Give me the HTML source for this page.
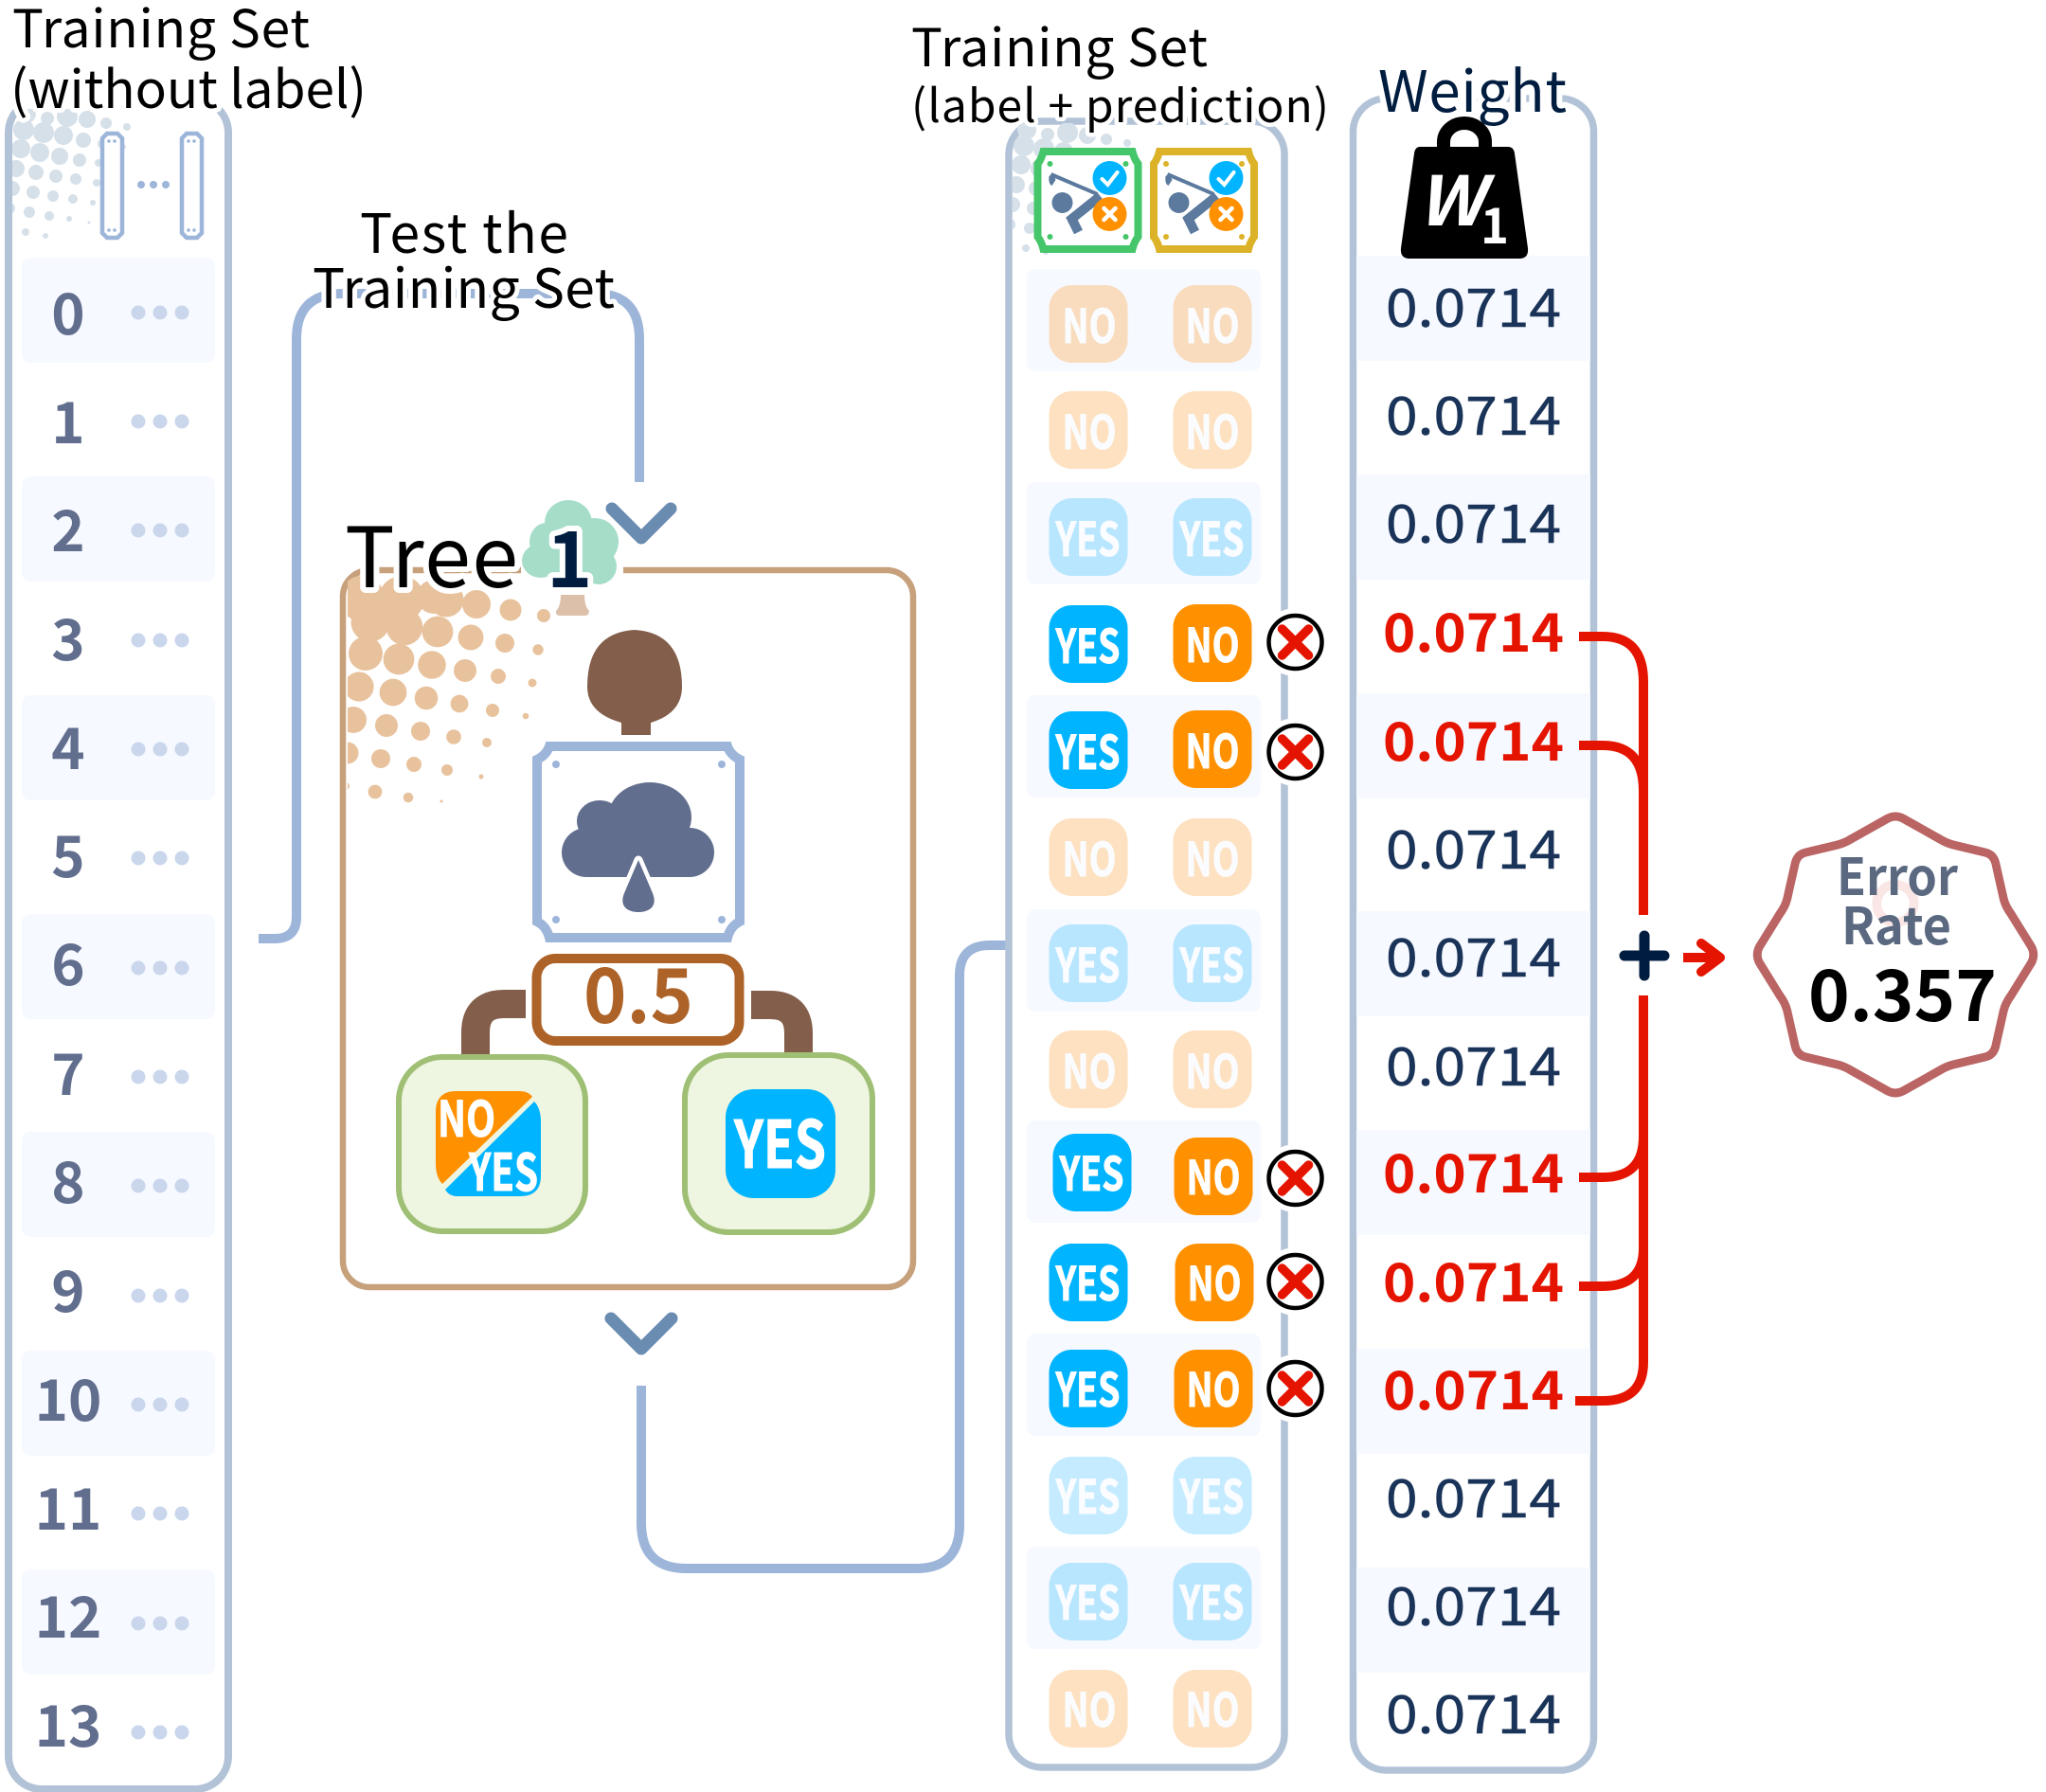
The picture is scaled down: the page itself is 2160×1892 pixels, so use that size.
<!DOCTYPE html>
<html>
<head>
<meta charset="utf-8">
<style>
html,body{margin:0;padding:0;background:#fff}
svg{display:block}
text{font-family:"Noto Sans CJK JP","Liberation Sans",sans-serif}
.h{paint-order:stroke;stroke:#fff;stroke-linejoin:round}
.n{font-size:60px;font-weight:700;fill:#626e8e;text-anchor:middle}
.d{fill:#c9d6ec}
.b{fill:#f6f9ff}
.w{font-size:56px;fill:#1a3358;stroke:#1a3358;stroke-width:.5px}
.r{font-size:56px;font-weight:700;fill:#e51400}
.p{font-size:49px;font-weight:700;fill:#fff;stroke:#fff;stroke-width:1px}
.q{font-size:49px;font-weight:700;fill:#fafcff;stroke:#fafcff;stroke-width:1px}
</style>
</head>
<body>
<svg xmlns="http://www.w3.org/2000/svg" width="2160" height="1892" viewBox="0 0 2160 1892">
<defs>
<clipPath id="c1"><rect x="13" y="115" width="225" height="150"/></clipPath>
<clipPath id="c2"><rect x="1072" y="130" width="130" height="140"/></clipPath>
<clipPath id="c3"><rect x="367" y="604" width="300" height="300"/></clipPath>
<g id="ht" fill="#d6e0e9">
<circle cx="25" cy="137" r="11"/><circle cx="46" cy="140" r="11"/><circle cx="67" cy="143" r="10"/><circle cx="88" cy="148" r="8"/>
<circle cx="22" cy="157" r="10"/><circle cx="42" cy="161" r="10"/><circle cx="63" cy="165" r="9"/><circle cx="84" cy="169" r="7"/><circle cx="104" cy="172" r="4"/>
<circle cx="17" cy="178" r="9"/><circle cx="38" cy="182" r="8"/><circle cx="59" cy="186" r="7"/><circle cx="80" cy="189" r="6"/><circle cx="102" cy="193" r="4"/>
<circle cx="13" cy="199" r="8"/><circle cx="35" cy="203" r="7"/><circle cx="56" cy="207" r="6"/><circle cx="77" cy="210" r="5"/><circle cx="98" cy="214" r="3"/>
<circle cx="10" cy="220" r="6"/><circle cx="31" cy="224" r="6"/><circle cx="52" cy="228" r="5"/><circle cx="73" cy="231" r="3"/><circle cx="94" cy="235" r="1.5"/>
<circle cx="27" cy="245" r="4"/><circle cx="48" cy="249" r="3"/>
<circle cx="28" cy="120" r="10"/><circle cx="50" cy="125" r="7"/><circle cx="71" cy="123" r="11"/><circle cx="92" cy="126" r="9"/><circle cx="112" cy="130" r="6"/><circle cx="134" cy="134" r="4"/><circle cx="108" cy="152" r="5"/><circle cx="130" cy="155" r="3"/>
</g>
</defs>

<!-- left column -->
<rect x="9" y="105" width="232" height="1784" rx="35" fill="none" stroke="#b3c3d7" stroke-width="8"/>
<rect x="15" y="95" width="216" height="21" fill="#fff"/>
<use href="#ht" clip-path="url(#c1)"/>
<rect x="23" y="272" width="204" height="111" rx="9" class="b"/>
<rect x="23" y="503" width="204" height="111" rx="9" class="b"/>
<rect x="23" y="734" width="204" height="111" rx="9" class="b"/>
<rect x="23" y="965" width="204" height="111" rx="9" class="b"/>
<rect x="23" y="1195" width="204" height="111" rx="9" class="b"/>
<rect x="23" y="1426" width="204" height="111" rx="9" class="b"/>
<rect x="23" y="1657" width="204" height="111" rx="9" class="b"/>
<path d="M113 141H124L129 146V246L124 251H113L108 246V146Z" fill="#fff" stroke="#9db5d9" stroke-width="4.5"/>
<path d="M197 141H208L213 146V246L208 251H197L192 246V146Z" fill="#fff" stroke="#9db5d9" stroke-width="4.5"/>
<g fill="#9db5d9"><circle cx="115" cy="149" r="1.8"/><circle cx="121" cy="149" r="1.8"/><circle cx="115" cy="243" r="1.8"/><circle cx="121" cy="243" r="1.8"/><circle cx="199" cy="149" r="1.8"/><circle cx="205" cy="149" r="1.8"/><circle cx="199" cy="243" r="1.8"/><circle cx="205" cy="243" r="1.8"/><circle cx="149" cy="195" r="4"/><circle cx="162" cy="195" r="4"/><circle cx="175" cy="195" r="4"/></g>

<text class="n" x="72" y="353">0</text>
<text class="n" x="72" y="468">1</text>
<text class="n" x="72" y="582">2</text>
<text class="n" x="72" y="697">3</text>
<text class="n" x="72" y="812">4</text>
<text class="n" x="72" y="926">5</text>
<text class="n" x="72" y="1040">6</text>
<text class="n" x="72" y="1156">7</text>
<text class="n" x="72" y="1270">8</text>
<text class="n" x="72" y="1385">9</text>
<text class="n" x="72" y="1500">10</text>
<text class="n" x="72" y="1615">11</text>
<text class="n" x="72" y="1729">12</text>
<text class="n" x="72" y="1844">13</text>
<g class="d">
<circle cx="146" cy="330" r="7.5"/><circle cx="169" cy="330" r="7.5"/><circle cx="192" cy="330" r="7.5"/>
<circle cx="146" cy="445" r="7.5"/><circle cx="169" cy="445" r="7.5"/><circle cx="192" cy="445" r="7.5"/>
<circle cx="146" cy="560" r="7.5"/><circle cx="169" cy="560" r="7.5"/><circle cx="192" cy="560" r="7.5"/>
<circle cx="146" cy="676" r="7.5"/><circle cx="169" cy="676" r="7.5"/><circle cx="192" cy="676" r="7.5"/>
<circle cx="146" cy="791" r="7.5"/><circle cx="169" cy="791" r="7.5"/><circle cx="192" cy="791" r="7.5"/>
<circle cx="146" cy="906" r="7.5"/><circle cx="169" cy="906" r="7.5"/><circle cx="192" cy="906" r="7.5"/>
<circle cx="146" cy="1022" r="7.5"/><circle cx="169" cy="1022" r="7.5"/><circle cx="192" cy="1022" r="7.5"/>
<circle cx="146" cy="1137" r="7.5"/><circle cx="169" cy="1137" r="7.5"/><circle cx="192" cy="1137" r="7.5"/>
<circle cx="146" cy="1252" r="7.5"/><circle cx="169" cy="1252" r="7.5"/><circle cx="192" cy="1252" r="7.5"/>
<circle cx="146" cy="1368" r="7.5"/><circle cx="169" cy="1368" r="7.5"/><circle cx="192" cy="1368" r="7.5"/>
<circle cx="146" cy="1483" r="7.5"/><circle cx="169" cy="1483" r="7.5"/><circle cx="192" cy="1483" r="7.5"/>
<circle cx="146" cy="1598" r="7.5"/><circle cx="169" cy="1598" r="7.5"/><circle cx="192" cy="1598" r="7.5"/>
<circle cx="146" cy="1714" r="7.5"/><circle cx="169" cy="1714" r="7.5"/><circle cx="192" cy="1714" r="7.5"/>
<circle cx="146" cy="1829" r="7.5"/><circle cx="169" cy="1829" r="7.5"/><circle cx="192" cy="1829" r="7.5"/>
</g>
<text x="13" y="50" font-size="55" textLength="314" fill="#000">Training Set</text>
<text x="11" y="114" font-size="55" textLength="376" fill="#000" class="h" stroke-width="10">(without label)</text>

<!-- connectors -->
<path d="M273 991H290Q313 991 313 968V358Q313 310 361 310H628Q675 310 675 358V509" fill="none" stroke="#9db5d9" stroke-width="10"/>
<path d="M677 1463V1608Q677 1656 725 1656H967Q1013 1656 1013 1610V1030Q1013 998 1045 998H1062" fill="none" stroke="#9db5d9" stroke-width="10"/>
<text x="490" y="267" font-size="57" text-anchor="middle" textLength="220" fill="#000" class="h" stroke-width="10">Test the</text>
<text x="330" y="325" font-size="57" textLength="319" fill="#000" class="h" stroke-width="10">Training Set</text>
<path d="M646 537L677 568L708 537" fill="none" stroke="#6a8cb0" stroke-width="13" stroke-linecap="round" stroke-linejoin="round"/>
<path d="M645 1392L677 1424L709 1392" fill="none" stroke="#6a8cb0" stroke-width="13" stroke-linecap="round" stroke-linejoin="round"/>

<!-- tree box -->
<rect x="362" y="602" width="602" height="757" rx="28" fill="none" stroke="#c7a07c" stroke-width="6.5"/>
<g fill="#e8c29d" clip-path="url(#c3)">
<circle cx="382" cy="632" r="24"/><circle cx="424" cy="632" r="24"/><circle cx="458" cy="630" r="18"/><circle cx="471" cy="633" r="18.5"/><circle cx="503" cy="638" r="15"/><circle cx="539" cy="644" r="11.5"/><circle cx="574" cy="650" r="7"/>
<circle cx="391" cy="657" r="20.5"/><circle cx="427" cy="662" r="19.3"/><circle cx="462" cy="667" r="16.4"/><circle cx="497" cy="673" r="13.5"/><circle cx="533" cy="679" r="10"/><circle cx="568" cy="686" r="5.7"/>
<circle cx="386" cy="690" r="18"/><circle cx="421" cy="696" r="16.4"/><circle cx="456" cy="702" r="14.8"/><circle cx="491" cy="708" r="12"/><circle cx="526" cy="714" r="8"/><circle cx="562" cy="721" r="4.5"/>
<circle cx="379" cy="725" r="15.6"/><circle cx="415" cy="731" r="14.4"/><circle cx="450" cy="737" r="12.3"/><circle cx="485" cy="743" r="9.4"/><circle cx="520" cy="750" r="7"/><circle cx="555" cy="756" r="3.3"/>
<circle cx="373" cy="760" r="14"/><circle cx="408" cy="766" r="12"/><circle cx="444" cy="772" r="10"/><circle cx="479" cy="778" r="7.8"/><circle cx="514" cy="784" r="5"/>
<circle cx="367" cy="795" r="11.5"/><circle cx="402" cy="801" r="10"/><circle cx="437" cy="807" r="8"/><circle cx="472" cy="813" r="6"/><circle cx="508" cy="820" r="2.5"/>
<circle cx="365" cy="830" r="4"/><circle cx="396" cy="836" r="7.4"/><circle cx="431" cy="842" r="5.3"/><circle cx="466" cy="846" r="1.5"/>
</g>
<rect x="550" y="596" width="108" height="12" fill="#fff"/>
<g fill="#a5ddc9"><ellipse cx="600" cy="552" rx="25" ry="24"/><circle cx="628" cy="572" r="25"/><ellipse cx="577" cy="572" rx="18" ry="20"/><ellipse cx="571" cy="592" rx="20" ry="18"/><ellipse cx="632" cy="598" rx="19" ry="19"/><circle cx="603" cy="585" r="30"/></g>
<path d="M592 628H617Q617 640 622 645Q622 650 617 650H592Q586 650 587 645Q592 640 592 628Z" fill="#dcc0aa"/>
<text x="364" y="620" font-size="88" textLength="183" fill="#000" class="h" stroke-width="12">Tree</text>
<text x="577" y="620" font-size="82" font-weight="700" textLength="42" fill="#001d40" class="h" stroke-width="12">1</text>

<path d="M670 665Q620 668 620 725Q620 753 656 763V776H687V763Q720 753 720 725Q720 668 670 665Z" fill="#835e4a"/>
<path d="M580 788H768Q771 797 781 802V973Q771 978 768 990H580Q577 978 567 973V802Q577 797 580 788Z" fill="#fff" stroke="#9db5d9" stroke-width="10"/>
<g fill="#9db5d9"><circle cx="587" cy="807" r="4"/><circle cx="762" cy="807" r="4"/><circle cx="587" cy="971" r="4"/><circle cx="762" cy="971" r="4"/></g>
<g fill="#626e8e"><ellipse cx="686" cy="863" rx="44" ry="37"/><ellipse cx="633" cy="867" rx="24" ry="22"/><ellipse cx="619" cy="900" rx="26" ry="26"/><ellipse cx="728" cy="900" rx="26" ry="26"/><rect x="619" y="870" width="109" height="56"/></g>
<path d="M674 908L659 943C653 958 664 963 674 963C684 963 695 958 689 943Z" fill="#626e8e" stroke="#fff" stroke-width="9" stroke-linejoin="round" paint-order="stroke"/>
<rect x="566.500" y="1012" width="214" height="87" rx="20" fill="#fff" stroke="#ad6228" stroke-width="10"/>
<text x="616" y="1080" font-size="80" font-weight="700" textLength="116" lengthAdjust="spacingAndGlyphs" fill="#ad6228">0.5</text>
<path d="M555 1060H532Q502 1060 502 1090V1118" fill="none" stroke="#835e4a" stroke-width="30"/>
<path d="M793 1061H813Q843 1061 843 1091V1116" fill="none" stroke="#835e4a" stroke-width="30"/>
<rect x="421" y="1116" width="197" height="184" rx="46" fill="#eef5e0" stroke="#9ebf74" stroke-width="6"/>
<rect x="723" y="1114" width="198" height="187" rx="46" fill="#eef5e0" stroke="#9ebf74" stroke-width="6"/>
<path d="M482 1152H548Q558 1152 562 1158L467 1250Q460 1243 460 1228V1174Q460 1152 482 1152Z" fill="#ff9100"/>
<path d="M564 1163Q571 1170 571 1185V1241Q571 1263 549 1263H483Q474 1263 470 1256Z" fill="#00b4ff"/>
<path d="M562 1162L468 1254" stroke="#eef5e0" stroke-width="4"/>
<text x="462" y="1200" class="p" style="font-size:52px" textLength="61" lengthAdjust="spacingAndGlyphs">NO</text>
<text x="495" y="1257" class="p" style="font-size:54px" textLength="73" lengthAdjust="spacingAndGlyphs">YES</text>
<rect x="766" y="1150" width="116" height="115" rx="30" fill="#00b4ff"/>
<text x="775" y="1233" class="p" style="font-size:69px" textLength="97" lengthAdjust="spacingAndGlyphs">YES</text>

<g transform="translate(-3 0)">
<!-- middle column -->
<rect x="1068" y="128" width="291" height="1738" rx="35" fill="none" stroke="#b3c3d7" stroke-width="7.5"/>
<g clip-path="url(#c2)"><use href="#ht" x="1059" y="17"/></g>
<rect x="1087" y="284" width="247" height="108" rx="9" class="b"/>
<rect x="1087" y="509" width="247" height="108" rx="9" class="b"/>
<rect x="1087" y="734" width="247" height="108" rx="9" class="b"/>
<rect x="1087" y="960" width="247" height="108" rx="9" class="b"/>
<rect x="1087" y="1183" width="247" height="108" rx="9" class="b"/>
<rect x="1087" y="1408" width="247" height="108" rx="9" class="b"/>
<rect x="1087" y="1633" width="247" height="108" rx="9" class="b"/>

<text x="965" y="70" font-size="55" textLength="313" fill="#000">Training Set</text>
<text x="965" y="129" font-size="48" textLength="441" fill="#000" class="h" stroke-width="9">(label + prediction)</text>

<!-- header icons -->
<g transform="translate(1.500 0)">
<path d="M1103 160H1197Q1199 168 1203 173V250Q1199 255 1197 263H1103Q1101 255 1097 250V173Q1101 168 1103 160Z" fill="#fff" stroke="#45c66a" stroke-width="8"/>
<g fill="#45c66a"><circle cx="1110" cy="173" r="3"/><circle cx="1190" cy="173" r="3"/><circle cx="1110" cy="250" r="3"/><circle cx="1190" cy="250" r="3"/></g>
</g>
<path d="M1227 160H1321Q1323 168 1327 173V250Q1323 255 1321 263H1227Q1225 255 1221 250V173Q1225 168 1227 160Z" fill="#fff" stroke="#dcb228" stroke-width="8"/>
<g fill="#dcb228"><circle cx="1234" cy="173" r="3"/><circle cx="1314" cy="173" r="3"/><circle cx="1234" cy="250" r="3"/><circle cx="1314" cy="250" r="3"/></g>
<g id="golf" transform="translate(1.500 0)">
<path d="M1111 184L1160 205" stroke="#5b7a9e" stroke-width="4" fill="none"/>
<path d="M1109 186L1113 183L1116 190L1112 196Q1108 194 1109 186Z" fill="#5b7a9e"/>
<path d="M1163 207L1133 231L1140 245" stroke="#5b7a9e" stroke-width="10" fill="none"/>
<circle cx="1123" cy="214" r="11" fill="#5b7a9e"/>
<circle cx="1173" cy="188" r="18" fill="#00b4ff"/>
<path d="M1165 189L1171 195L1181 182" stroke="#fff" stroke-width="4" fill="none" stroke-linecap="round"/>
<circle cx="1173" cy="226" r="18" fill="#ff9100"/>
<path d="M1167 220L1179 232M1179 220L1167 232" stroke="#fff" stroke-width="4.500" stroke-linecap="round"/>
</g>
<use href="#golf" x="123"/>

<!-- row pills -->
<g transform="translate(2.500 0)">
<rect x="1108" y="301" width="83" height="82" rx="24" fill="#f9dcbe"/><text class="q" x="1122" y="362" textLength="57" lengthAdjust="spacingAndGlyphs">NO</text>
<rect x="1239" y="301" width="83" height="82" rx="24" fill="#f9dcbe"/><text class="q" x="1252" y="362" textLength="57" lengthAdjust="spacingAndGlyphs">NO</text>
<rect x="1108" y="413" width="83" height="82" rx="24" fill="#fde1c0"/><text class="q" x="1122" y="474" textLength="57" lengthAdjust="spacingAndGlyphs">NO</text>
<rect x="1239" y="413" width="83" height="82" rx="24" fill="#fde1c0"/><text class="q" x="1252" y="474" textLength="57" lengthAdjust="spacingAndGlyphs">NO</text>
<rect x="1108" y="526" width="83" height="82" rx="24" fill="#b8e6ff"/><text class="q" x="1115" y="587" textLength="68" lengthAdjust="spacingAndGlyphs">YES</text>
<rect x="1239" y="526" width="83" height="82" rx="24" fill="#b8e6ff"/><text class="q" x="1246" y="587" textLength="68" lengthAdjust="spacingAndGlyphs">YES</text>
<rect x="1108" y="639" width="83" height="82" rx="24" fill="#00b4ff"/><text class="p" x="1115" y="700" textLength="68" lengthAdjust="spacingAndGlyphs">YES</text>
<rect x="1239" y="638" width="83" height="82" rx="24" fill="#ff9100"/><text class="p" x="1252" y="699" textLength="57" lengthAdjust="spacingAndGlyphs">NO</text>
<rect x="1108" y="751" width="83" height="82" rx="24" fill="#00b4ff"/><text class="p" x="1115" y="812" textLength="68" lengthAdjust="spacingAndGlyphs">YES</text>
<rect x="1239" y="750" width="83" height="82" rx="24" fill="#ff9100"/><text class="p" x="1252" y="811" textLength="57" lengthAdjust="spacingAndGlyphs">NO</text>
<rect x="1108" y="864" width="83" height="82" rx="24" fill="#fde1c0"/><text class="q" x="1122" y="925" textLength="57" lengthAdjust="spacingAndGlyphs">NO</text>
<rect x="1239" y="864" width="83" height="82" rx="24" fill="#fde1c0"/><text class="q" x="1252" y="925" textLength="57" lengthAdjust="spacingAndGlyphs">NO</text>
<rect x="1108" y="976" width="83" height="82" rx="24" fill="#b8e6ff"/><text class="q" x="1115" y="1037" textLength="68" lengthAdjust="spacingAndGlyphs">YES</text>
<rect x="1239" y="976" width="83" height="82" rx="24" fill="#b8e6ff"/><text class="q" x="1246" y="1037" textLength="68" lengthAdjust="spacingAndGlyphs">YES</text>
<rect x="1108" y="1088" width="83" height="82" rx="24" fill="#fde1c0"/><text class="q" x="1122" y="1149" textLength="57" lengthAdjust="spacingAndGlyphs">NO</text>
<rect x="1239" y="1088" width="83" height="82" rx="24" fill="#fde1c0"/><text class="q" x="1252" y="1149" textLength="57" lengthAdjust="spacingAndGlyphs">NO</text>
<rect x="1112" y="1197" width="83" height="82" rx="24" fill="#00b4ff"/><text class="p" x="1119" y="1257" textLength="68" lengthAdjust="spacingAndGlyphs">YES</text>
<rect x="1240" y="1201" width="83" height="82" rx="24" fill="#ff9100"/><text class="p" x="1253" y="1261" textLength="57" lengthAdjust="spacingAndGlyphs">NO</text>
<rect x="1108" y="1313" width="83" height="82" rx="24" fill="#00b4ff"/><text class="p" x="1115" y="1373" textLength="68" lengthAdjust="spacingAndGlyphs">YES</text>
<rect x="1241" y="1313" width="83" height="82" rx="24" fill="#ff9100"/><text class="p" x="1254" y="1373" textLength="57" lengthAdjust="spacingAndGlyphs">NO</text>
<rect x="1108" y="1425" width="83" height="82" rx="24" fill="#00b4ff"/><text class="p" x="1115" y="1485" textLength="68" lengthAdjust="spacingAndGlyphs">YES</text>
<rect x="1240" y="1425" width="83" height="82" rx="24" fill="#ff9100"/><text class="p" x="1253" y="1485" textLength="57" lengthAdjust="spacingAndGlyphs">NO</text>
<rect x="1108" y="1538" width="83" height="82" rx="24" fill="#c4ebff"/><text class="q" x="1115" y="1598" textLength="68" lengthAdjust="spacingAndGlyphs">YES</text>
<rect x="1239" y="1538" width="83" height="82" rx="24" fill="#c4ebff"/><text class="q" x="1246" y="1598" textLength="68" lengthAdjust="spacingAndGlyphs">YES</text>
<rect x="1108" y="1650" width="83" height="82" rx="24" fill="#b8e6ff"/><text class="q" x="1115" y="1710" textLength="68" lengthAdjust="spacingAndGlyphs">YES</text>
<rect x="1239" y="1650" width="83" height="82" rx="24" fill="#b8e6ff"/><text class="q" x="1246" y="1710" textLength="68" lengthAdjust="spacingAndGlyphs">YES</text>
<rect x="1108" y="1763" width="83" height="82" rx="24" fill="#fde1c0"/><text class="q" x="1122" y="1823" textLength="57" lengthAdjust="spacingAndGlyphs">NO</text>
<rect x="1239" y="1763" width="83" height="82" rx="24" fill="#fde1c0"/><text class="q" x="1252" y="1823" textLength="57" lengthAdjust="spacingAndGlyphs">NO</text>
</g>

<!-- X marks -->
<g id="xm"><circle cx="1370.500" cy="678" r="36" fill="#fff"/><circle cx="1370.500" cy="678" r="28" fill="#fff" stroke="#000" stroke-width="4.500"/><path d="M1356.500 664L1384.500 692M1384.500 664L1356.500 692" stroke="#e51400" stroke-width="9.500" stroke-linecap="round"/></g>
<use href="#xm" y="116"/>
<use href="#xm" y="566"/>
<use href="#xm" y="675"/>
<use href="#xm" y="788"/>

<!-- weight column -->
<rect x="1431.500" y="104" width="254" height="1765" rx="35" fill="none" stroke="#b3c3d7" stroke-width="7.500"/>
<rect x="1435" y="270" width="247" height="111" class="b"/>
<rect x="1435" y="501" width="247" height="111" class="b"/>
<rect x="1435" y="732" width="247" height="111" class="b"/>
<rect x="1435" y="962" width="247" height="111" class="b"/>
<rect x="1435" y="1193" width="247" height="111" class="b"/>
<rect x="1435" y="1424" width="247" height="111" class="b"/>
<rect x="1435" y="1655" width="247" height="111" class="b"/>
<text x="1458" y="118" font-size="60" textLength="199" fill="#001d40" class="h" stroke-width="12">Weight</text>
<path d="M1527 160V150A22 20 0 0 1 1571 150V160" fill="none" stroke="#000" stroke-width="14"/>
<path d="M1502 155H1595Q1601 155 1602 162L1616 262Q1617 273 1607 273H1491Q1481 273 1482 262L1496 162Q1497 155 1502 155Z" fill="#000"/>
<text x="1499" y="238" font-size="72" font-weight="700" font-style="italic" fill="#fff" textLength="70" lengthAdjust="spacingAndGlyphs">W</text>
<text x="1566" y="257" font-size="52" font-weight="700" fill="#fff" textLength="30" lengthAdjust="spacingAndGlyphs">1</text>

<text class="w" x="1466" y="345" textLength="185" lengthAdjust="spacingAndGlyphs">0.0714</text>
<text class="w" x="1466" y="459" textLength="185" lengthAdjust="spacingAndGlyphs">0.0714</text>
<text class="w" x="1466" y="573" textLength="185" lengthAdjust="spacingAndGlyphs">0.0714</text>
<text class="r" x="1463" y="688" textLength="191" lengthAdjust="spacingAndGlyphs">0.0714</text>
<text class="r" x="1463" y="803" textLength="191" lengthAdjust="spacingAndGlyphs">0.0714</text>
<text class="w" x="1466" y="917" textLength="185" lengthAdjust="spacingAndGlyphs">0.0714</text>
<text class="w" x="1466" y="1031" textLength="185" lengthAdjust="spacingAndGlyphs">0.0714</text>
<text class="w" x="1466" y="1146" textLength="185" lengthAdjust="spacingAndGlyphs">0.0714</text>
<text class="r" x="1463" y="1259" textLength="191" lengthAdjust="spacingAndGlyphs">0.0714</text>
<text class="r" x="1463" y="1374" textLength="191" lengthAdjust="spacingAndGlyphs">0.0714</text>
<text class="r" x="1463" y="1488" textLength="191" lengthAdjust="spacingAndGlyphs">0.0714</text>
<text class="w" x="1466" y="1602" textLength="185" lengthAdjust="spacingAndGlyphs">0.0714</text>
<text class="w" x="1466" y="1716" textLength="185" lengthAdjust="spacingAndGlyphs">0.0714</text>
<text class="w" x="1466" y="1830" textLength="185" lengthAdjust="spacingAndGlyphs">0.0714</text>

<!-- red bracket -->
<g fill="none" stroke="#e51400" stroke-width="10">
<path d="M1670 672H1695Q1738 672 1738 720V966"/>
<path d="M1670 787H1695Q1738 787 1738 835"/>
<path d="M1738 1051V1438Q1738 1479 1695 1479H1666"/>
<path d="M1738 1200Q1738 1243 1695 1243H1670"/>
<path d="M1738 1318Q1738 1358 1695 1358H1670"/>
</g>
</g>

<path d="M1715 1009H1757M1736 988V1030" stroke="#001d40" stroke-width="11" stroke-linecap="round"/>
<path d="M1777 1011H1813" stroke="#e51400" stroke-width="10"/>
<path d="M1796 996L1816 1011L1796 1026" fill="none" stroke="#e51400" stroke-width="10" stroke-linecap="round" stroke-linejoin="round"/>

<!-- badge -->
<g transform="translate(2001 1008) scale(.985 1)">
<path d="M-8 -144L-46 -123Q-54 -118 -62 -116L-96 -108Q-106 -106 -108 -94L-116 -59Q-118 -51 -124 -43L-146 -8Q-150 0 -146 8L-124 43Q-118 51 -116 59L-108 94Q-106 106 -96 108L-62 116Q-54 118 -46 123L-8 144Q0 148 8 144L46 123Q54 118 62 116L96 108Q106 106 108 94L116 59Q118 51 124 43L146 8Q150 0 146 -8L124 -43Q118 -51 116 -59L108 -94Q106 -106 96 -108L62 -116Q54 -118 46 -123L8 -144Q0 -148 -8 -144Z" fill="#fff" stroke="#ba6464" stroke-width="9"/>
<circle cx="0" cy="-54" r="20" fill="none" stroke="#fbe6e6" stroke-width="10"/>
</g>
<text x="1939" y="945" font-size="54" font-weight="700" textLength="128" lengthAdjust="spacingAndGlyphs" fill="#5a6880">Error</text>
<text x="1944" y="997" font-size="54" font-weight="700" textLength="116" lengthAdjust="spacingAndGlyphs" fill="#5a6880">Rate</text>
<text x="1909" y="1078" font-size="75" font-weight="700" textLength="199" lengthAdjust="spacingAndGlyphs" fill="#000">0.357</text>
</svg>
</body>
</html>
